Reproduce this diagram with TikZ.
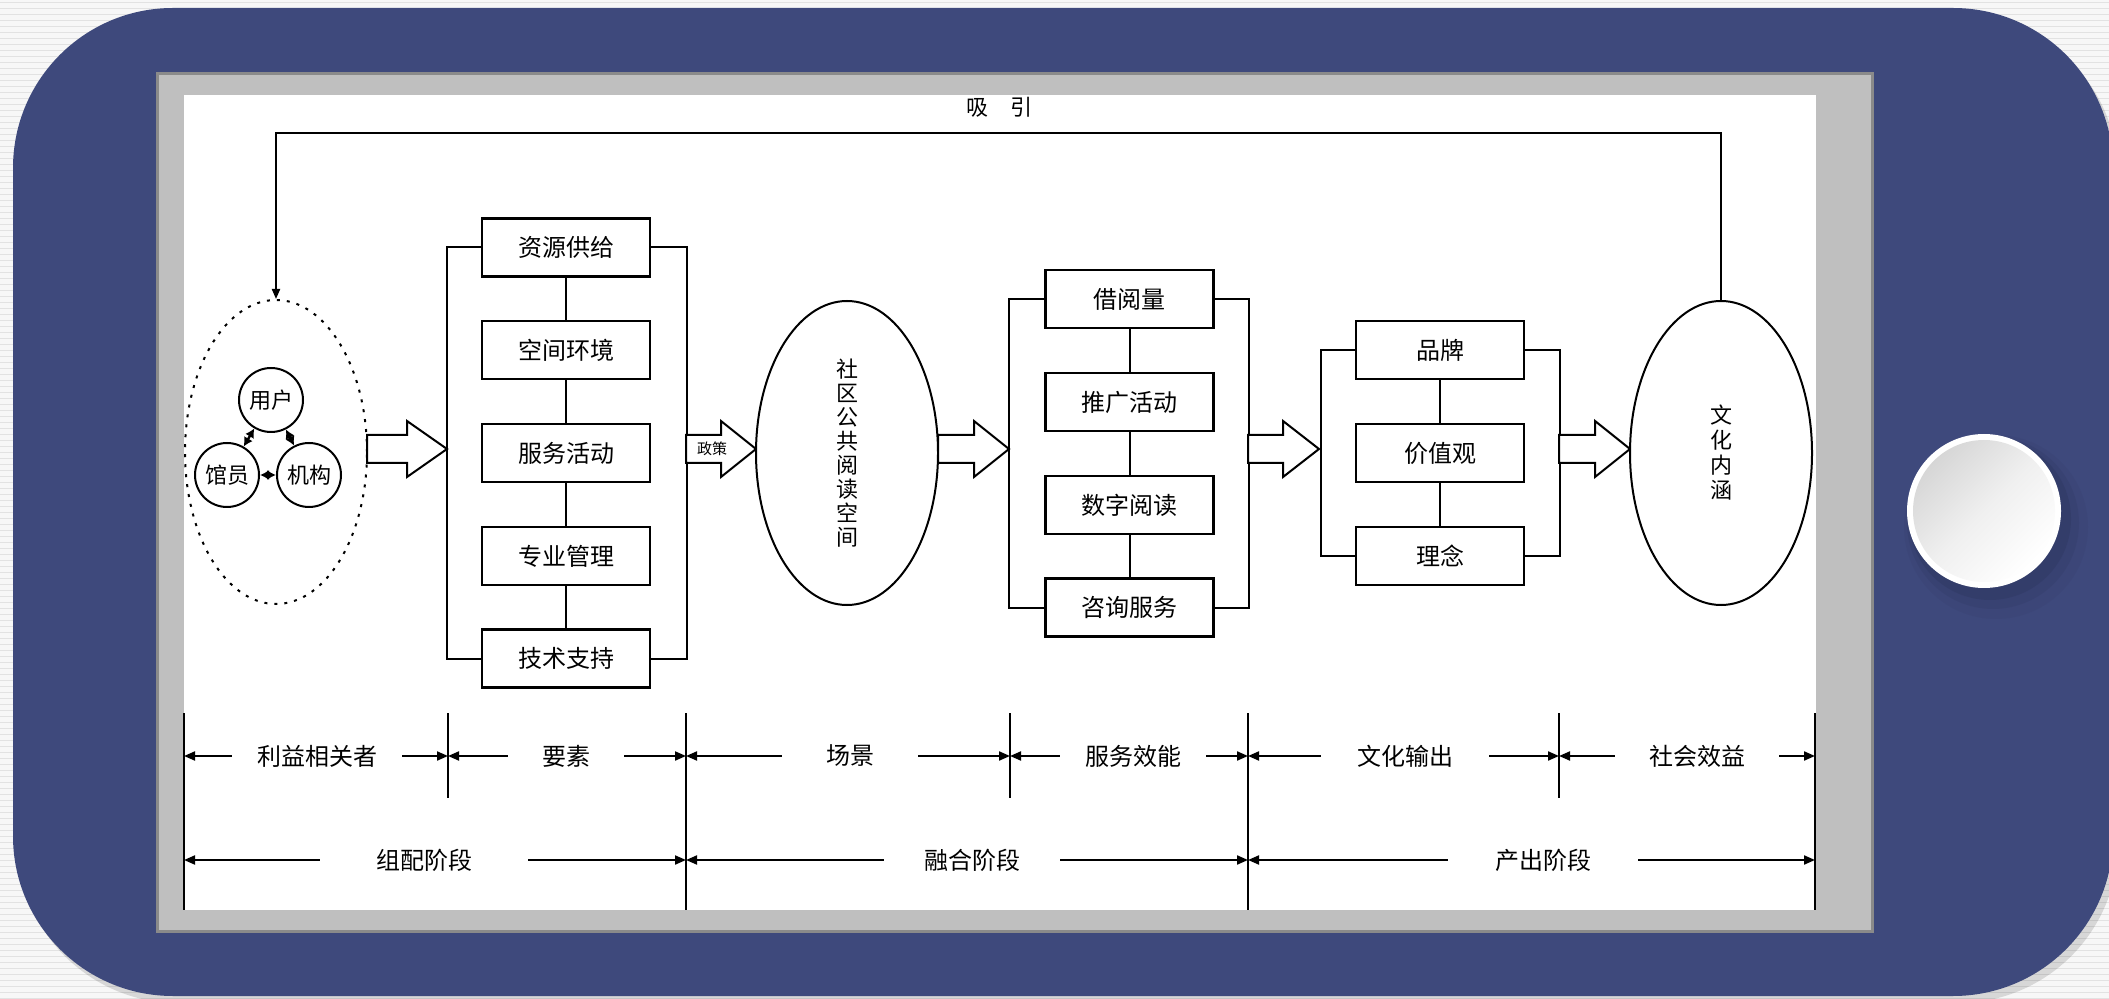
\documentclass[tikz,border=0pt]{standalone}
\usepackage{fontspec}
\setmainfont{Noto Sans CJK SC}
\usetikzlibrary{arrows.meta}
\usetikzlibrary{patterns}
\usetikzlibrary{shapes.geometric}

\definecolor{panelblue}{RGB}{62,73,124}
\definecolor{framegray}{RGB}{191,191,191}
\definecolor{frameedge}{RGB}{138,138,138}
\definecolor{pagegray}{RGB}{247,247,247}
\definecolor{stripegray}{RGB}{226,226,226}
\definecolor{shadownavy}{RGB}{30,36,70}

\begin{document}
\begin{tikzpicture}[x=0.5pt,y=0.5pt,yscale=-1,xscale=1,
  box/.style={draw,line width=1.1pt,fill=white,minimum width=84pt,minimum height=29pt,inner sep=0pt,font=\fontsize{12}{14}\selectfont},
  oval/.style={draw,ellipse,line width=1pt,fill=white,minimum width=91pt,minimum height=152pt,inner sep=0pt},
  role/.style={draw,circle,line width=1pt,fill=white,minimum size=32pt,inner sep=0pt,font=\fontsize{11}{13}\selectfont},
  link/.style={line width=1pt},
  fatarrow/.style={draw,line width=1pt,fill=white,line join=miter},
  both/.style={line width=1.2pt,{Latex[length=4.5pt,width=5pt]}-{Latex[length=4.5pt,width=5pt]}},
  dimarrow/.style={line width=1pt,-{Triangle[length=5.5pt,width=4.5pt]}},
  dimlbl/.style={inner ysep=0pt,font=\fontsize{12}{14}\selectfont},
  tick/.style={line width=1pt}
]
\useasboundingbox (0,0) rectangle (2109,999);

%Shape: Rectangle (page with stripes)
\fill[pagegray] (0,0) rectangle (2109,999);
\fill[pattern=horizontal lines,pattern color=stripegray] (0,0) rectangle (2109,999);
%Shape: Rounded Rectangle (panel)
\fill[black,opacity=0.13,rounded corners=80pt] (18,15) rectangle (2118,1003);
\fill[panelblue,rounded corners=80pt] (13,8) rectangle (2113,996);
%Shape: Rectangle (frame)
\draw[frameedge,fill=framegray,line width=1.5pt] (157,74) rectangle (1872,931);
\fill[white] (184,95) rectangle (1816,910);

%Shape: Circle (button)
\fill[shadownavy,opacity=0.06] (1996,527) circle (92);
\fill[shadownavy,opacity=0.10] (1993,523) circle (86);
\fill[shadownavy,opacity=0.16] (1990,519) circle (81);
\node[circle,fill=white,minimum size=77pt,inner sep=0pt] (knobrim) at (1984,511) {};
\node[circle,minimum size=71pt,inner sep=0pt,top color=gray!32,bottom color=white,middle color=gray!12,shading angle=45] (knob) at (1984,511) {};

%Shape: Ellipse (stakeholders)
\node[oval,dash pattern=on 1.5pt off 3.5pt] (stake) at (276,452) {};
\node[role] (user) at (271,400) {用户};
\node[role] (staff) at (227,475) {馆员};
\node[role] (org) at (309,475) {机构};
\draw[both] (user) -- (staff);
\draw[both] (user) -- (org);
\draw[both] (staff) -- (org);

%Shape: Right Arrow
\draw[fatarrow] (367,435) -- (407,435) -- (407,421) -- (447,449) -- (407,477) -- (407,463) -- (367,463) -- cycle;

%Shape: Rectangle (elements)
\node[box] (supply) at (566,247.5) {资源供给};
\node[box] (env) at (566,350) {空间环境};
\node[box] (activ) at (566,453) {服务活动};
\node[box] (manage) at (566,556) {专业管理};
\node[box] (tech) at (566,658.5) {技术支持};
\draw[link] (supply) -- (env);
\draw[link] (env) -- (activ);
\draw[link] (activ) -- (manage);
\draw[link] (manage) -- (tech);
\draw[link] (supply.west) -- ++(-34,0) |- (tech.west);
\draw[link] (supply.east) -- ++(36,0) |- (tech.east);

%Shape: Right Arrow (policy)
\draw[fatarrow] (686,435) -- (721,435) -- (721,421) -- (756,449) -- (721,477) -- (721,463) -- (686,463) -- cycle;
% Text Node
\node[font=\fontsize{7.5}{9}\selectfont] (policy) at (712,449) {政策};

%Shape: Ellipse (reading space)
\node[oval,align=center,font=\fontsize{11}{12}\selectfont] (space) at (847,453) {社\\区\\公\\共\\阅\\读\\空\\间};

%Shape: Right Arrow
\draw[fatarrow] (938,435) -- (974,435) -- (974,421) -- (1009,449) -- (974,477) -- (974,463) -- (938,463) -- cycle;

%Shape: Rectangle (service)
\node[box] (loan) at (1129.5,299) {借阅量};
\node[box] (promo) at (1129.5,402) {推广活动};
\node[box] (digital) at (1129.5,505) {数字阅读};
\node[box] (consult) at (1129.5,607.5) {咨询服务};
\draw[link] (loan) -- (promo);
\draw[link] (promo) -- (digital);
\draw[link] (digital) -- (consult);
\draw[link] (loan.west) -- ++(-35.5,0) |- (consult.west);
\draw[link] (loan.east) -- ++(34.5,0) |- (consult.east);

%Shape: Right Arrow
\draw[fatarrow] (1248,435) -- (1283,435) -- (1283,421) -- (1319,449) -- (1283,477) -- (1283,463) -- (1248,463) -- cycle;

%Shape: Rectangle (output)
\node[box] (brand) at (1440,350) {品牌};
\node[box] (value) at (1440,453) {价值观};
\node[box] (idea) at (1440,556) {理念};
\draw[link] (brand) -- (value);
\draw[link] (value) -- (idea);
\draw[link] (brand.west) -- ++(-34,0) |- (idea.west);
\draw[link] (brand.east) -- ++(35,0) |- (idea.east);

%Shape: Right Arrow
\draw[fatarrow] (1559,435) -- (1595,435) -- (1595,421) -- (1630,449) -- (1595,477) -- (1595,463) -- (1559,463) -- cycle;

%Shape: Ellipse (culture)
\node[oval,align=center,font=\fontsize{11}{12.5}\selectfont] (culture) at (1721,453) {文\\化\\内\\涵};

% feedback
\draw[link,-{Triangle[length=5pt,width=4pt]}] (culture.north) -- ++(0,-167) -| (stake.north);
% Text Node
\node[font=\fontsize{11}{13}\selectfont] (attract) at (999,107) {吸\hspace{11pt}引};

% dimension ticks
\coordinate (t0) at (184,713);
\coordinate (t1) at (448,713);
\coordinate (t2) at (686,713);
\coordinate (t3) at (1010,713);
\coordinate (t4) at (1248,713);
\coordinate (t5) at (1559,713);
\coordinate (t6) at (1815,713);
\draw[tick] (t0) -- ++(0,197);
\draw[tick] (t1) -- ++(0,85);
\draw[tick] (t2) -- ++(0,197);
\draw[tick] (t3) -- ++(0,85);
\draw[tick] (t4) -- ++(0,197);
\draw[tick] (t5) -- ++(0,85);
\draw[tick] (t6) -- ++(0,197);

% Text Node
\node[dimlbl,inner xsep=12.5pt] (stakelbl) at (317,756) {利益相关者};
\node[dimlbl,inner xsep=17pt] (elemlbl) at (566,756) {要素};
\node[dimlbl,inner xsep=22pt] (scenelbl) at (850,756) {场景};
\node[dimlbl,inner xsep=12.5pt] (efflbl) at (1133,756) {服务效能};
\node[dimlbl,inner xsep=18pt] (outlbl) at (1405,756) {文化输出};
\node[dimlbl,inner xsep=17pt] (sociallbl) at (1697,756) {社会效益};
\node[dimlbl,inner xsep=28pt] (assemlbl) at (424,860) {组配阶段};
\node[dimlbl,inner xsep=20pt] (fuselbl) at (972,860) {融合阶段};
\node[dimlbl,inner xsep=23.5pt] (prodlbl) at (1543,860) {产出阶段};

\draw[dimarrow] (stakelbl.west) -- (stakelbl -| t0);
\draw[dimarrow] (stakelbl.east) -- (stakelbl -| t1);
\draw[dimarrow] (elemlbl.west) -- (elemlbl -| t1);
\draw[dimarrow] (elemlbl.east) -- (elemlbl -| t2);
\draw[dimarrow] (scenelbl.west) -- (scenelbl -| t2);
\draw[dimarrow] (scenelbl.east) -- (scenelbl -| t3);
\draw[dimarrow] (efflbl.west) -- (efflbl -| t3);
\draw[dimarrow] (efflbl.east) -- (efflbl -| t4);
\draw[dimarrow] (outlbl.west) -- (outlbl -| t4);
\draw[dimarrow] (outlbl.east) -- (outlbl -| t5);
\draw[dimarrow] (sociallbl.west) -- (sociallbl -| t5);
\draw[dimarrow] (sociallbl.east) -- (sociallbl -| t6);
\draw[dimarrow] (assemlbl.west) -- (assemlbl -| t0);
\draw[dimarrow] (assemlbl.east) -- (assemlbl -| t2);
\draw[dimarrow] (fuselbl.west) -- (fuselbl -| t2);
\draw[dimarrow] (fuselbl.east) -- (fuselbl -| t4);
\draw[dimarrow] (prodlbl.west) -- (prodlbl -| t4);
\draw[dimarrow] (prodlbl.east) -- (prodlbl -| t6);

\end{tikzpicture}
\end{document}
